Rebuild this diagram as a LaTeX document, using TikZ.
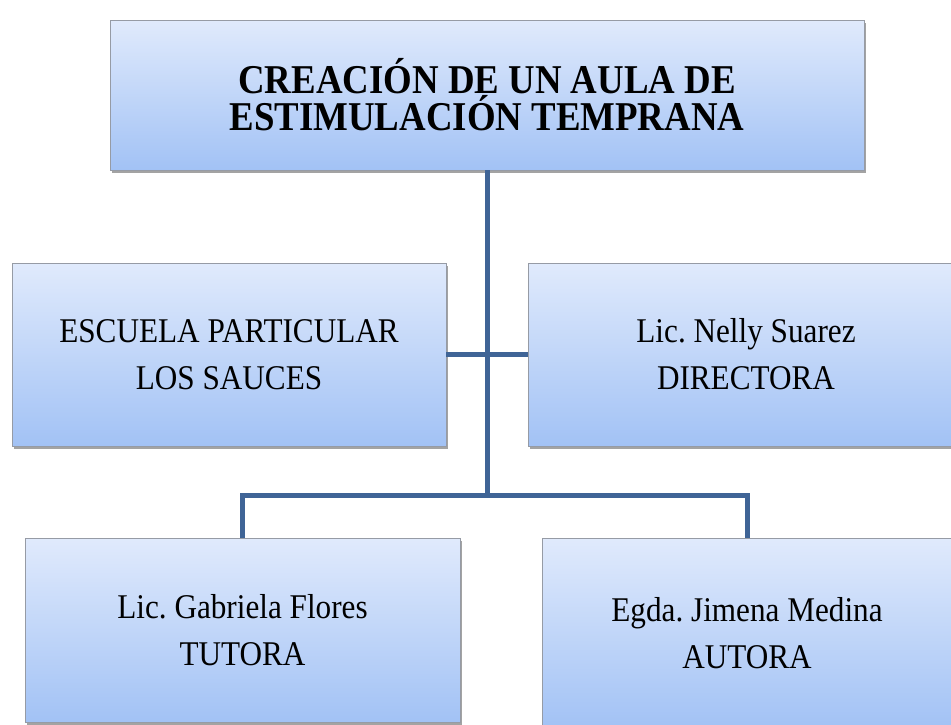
\documentclass[tikz,border=0pt]{standalone}
\usepackage{fontspec}
\setmainfont{Liberation Serif}
\usepackage{xcolor}
\usepackage{graphicx}
\usetikzlibrary{positioning,calc,shadows}
\definecolor{boxtop}{RGB}{224,234,252}
\definecolor{boxbottom}{RGB}{162,194,245}
\definecolor{boxline}{RGB}{150,155,165}
\definecolor{linkblue}{RGB}{63,100,150}
\newcommand{\narrow}[1]{\scalebox{0.9}[1]{#1}}

\begin{document}
\begin{tikzpicture}[
			x=0.75pt, y=-0.75pt,
			orgbox/.style={rectangle, draw=boxline, line width=0.6pt, top color=boxtop, bottom color=boxbottom, align=center, inner sep=0pt, drop shadow={shadow xshift=1.8pt, shadow yshift=-2.4pt, opacity=0.55, fill=black!65}, font=\fontsize{26}{35.25}\selectfont},
			titlebox/.style={orgbox, minimum width=565.5pt, minimum height=112.5pt, font=\fontsize{30.7}{27.75}\selectfont\bfseries},
			link/.style={line width=3.75pt, color=linkblue}
		]
			\clip (0,0) rectangle (951,725);
			\fill[white] (0,0) rectangle (951,725);
			\node[titlebox] (aula) at (487,95) {\narrow{CREACIÓN DE UN AULA DE} \\ \narrow{ESTIMULACIÓN TEMPRANA}};
			\node[orgbox, minimum width=325.5pt, minimum height=137.25pt] (escuela) at (229,354.5) {\narrow{ESCUELA PARTICULAR} \\ \narrow{LOS SAUCES}};
			\node[orgbox, minimum width=327pt, minimum height=137.25pt] (directora) at (746,354.5) {\narrow{Lic.\ Nelly Suarez} \\ \narrow{DIRECTORA}};
			\node[orgbox, minimum width=326.25pt, minimum height=138pt] (tutora) at (242.5,630) {\narrow{Lic.\ Gabriela Flores} \\ \narrow{TUTORA}};
			\node[orgbox, minimum width=307.5pt, minimum height=142.5pt] (autora) at (747,633) {\narrow{Egda.\ Jimena Medina} \\ \narrow{AUTORA}};
			\coordinate (split) at (487,495);
			
			% connectors
			\draw[link] (escuela.east) -- (directora.west);
			\draw[link] (aula.south) -- (split);
			\draw[link] (tutora.north) |- (split) -| (autora.north);
		\end{tikzpicture}
\end{document}
